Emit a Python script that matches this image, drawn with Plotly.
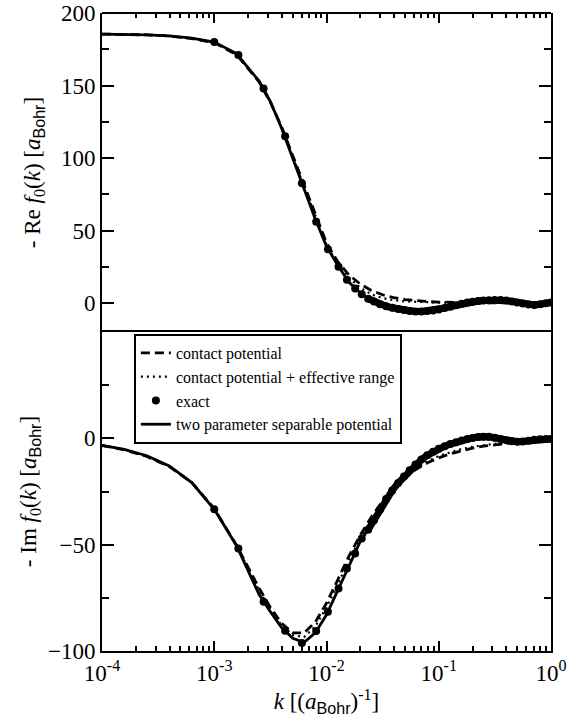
import plotly.graph_objects as go
from plotly.subplots import make_subplots

# ---------------- data ----------------
k_grid = [1e-4, 1.58e-4, 2.51e-4, 3.98e-4, 6.31e-4, 1e-3, 1.58e-3, 2.51e-3, 3.16e-3,
          3.98e-3, 5.01e-3, 6.31e-3, 7.94e-3, 1e-2, 1.26e-2, 1.58e-2, 2.0e-2, 2.51e-2,
          3.16e-2, 3.98e-2, 5.01e-2, 6.31e-2, 7.94e-2, 0.1, 0.126, 0.158, 0.2, 0.251,
          0.316, 0.398, 0.501, 0.631, 0.794, 1.0]

# top panel: - Re f0(k)
re_contact = [185.5, 185.3, 184.9, 184.1, 182.4, 179.5, 171.3, 152.5, 138.5, 121.5, 101.5,
              81.5, 60.5, 41.5, 28.5, 19.5, 13.0, 8.7, 5.7, 3.7, 2.4, 1.5, 1.0, 0.6, 0.4,
              0.25, 0.15, 0.1, 0.06, 0.04, 0.02, 0.015, 0.01, 0.005]
re_effrange = [185.5, 185.3, 184.9, 184.1, 182.5, 179.8, 171.7, 152.8, 138.8, 121.0, 100.8,
               80.3, 59.3, 40.3, 27.0, 17.5, 10.5, 6.0, 3.4, 1.9, 1.1, 0.7, 0.45, 0.3, 0.2,
               0.15, 0.1, 0.07, 0.05, 0.03, 0.02, 0.015, 0.01, 0.005]
re_twoparam = [185.5, 185.3, 184.9, 184.2, 182.6, 180.0, 172.0, 153.0, 139.0, 120.5, 100.0,
               79.0, 58.0, 39.0, 26.0, 14.5, 7.0, 2.0, -1.3, -3.5, -4.9, -5.9, -5.6, -4.4,
               -2.6, -0.6, 0.9, 1.7, 2.05, 1.7, 0.4, -1.1, -0.9, 0.4]

# bottom panel: - Im f0(k)
im_contact = [-3.4, -5.4, -8.5, -13.3, -20.8, -33.0, -50.3, -70.5, -79.5, -87.0, -91.5,
              -91.5, -86.5, -77.5, -66.5, -55.5, -45.5, -37.0, -29.5, -23.5, -18.5, -14.5,
              -11.5, -9.2, -7.3, -5.8, -4.6, -3.7, -3.0, -2.4, -1.9, -1.5, -1.2, -0.9]
im_effrange = [-3.3, -5.3, -8.4, -13.2, -20.8, -33.2, -50.4, -71.5, -80.5, -88.0, -92.5,
               -93.5, -88.5, -79.5, -68.5, -57.5, -47.0, -38.5, -30.5, -24.0, -18.5, -14.0,
               -10.8, -8.3, -6.5, -5.1, -4.0, -3.2, -2.6, -2.1, -1.7, -1.35, -1.05, -0.8]
im_twoparam = [-3.3, -5.2, -8.2, -13.0, -20.8, -33.4, -50.5, -73.5, -81.5, -89.0, -94.0,
               -96.0, -91.5, -83.0, -71.5, -60.0, -48.5, -40.5, -31.5, -23.8, -17.8, -12.0,
               -8.0, -5.0, -2.8, -1.1, 0.2, 0.8, 0.3, -0.9, -1.6, -1.1, -0.4, -0.3]

# exact results (dots)
k_exact = [1.0e-3, 1.64e-3, 2.75e-3, 4.28e-3, 6.04e-3, 8.09e-3, 1.03e-2, 1.28e-2, 1.52e-2,
           1.80e-2, 2.06e-2, 2.35e-2, 2.65e-2, 3.0e-2, 3.4e-2, 3.85e-2, 4.35e-2, 4.9e-2,
           5.5e-2, 6.2e-2, 7.0e-2, 7.9e-2, 8.9e-2, 0.10, 0.113, 0.127, 0.143, 0.16, 0.18,
           0.2, 0.225, 0.25, 0.28, 0.315, 0.355, 0.4, 0.45, 0.5, 0.56, 0.63, 0.71, 0.8,
           0.9, 1.0]
re_exact = [180, 171, 148, 115, 82.6, 56, 37, 25, 16, 10, 6, 3, 1, -0.8, -2.2, -3.3, -4.2,
            -4.9, -5.6, -5.9, -5.9, -5.6, -5.1, -4.4, -3.5, -2.5, -1.5, -0.5, 0.3, 0.9, 1.4,
            1.7, 1.95, 2.05, 2.0, 1.7, 1.1, 0.4, -0.4, -1.1, -1.3, -0.9, -0.2, 0.4]
im_exact = [-33.4, -51.8, -76.9, -90.5, -96.2, -90.6, -81.6, -70.6, -61.2, -54.1, -47.1,
            -43, -38.5, -33.5, -28.5, -24.5, -21, -18, -15, -12.3, -10, -8, -6.3, -4.9,
            -3.7, -2.7, -1.8, -1.0, -0.3, 0.2, 0.6, 0.8, 0.7, 0.3, -0.3, -0.9, -1.4, -1.6,
            -1.5, -1.1, -0.7, -0.4, -0.3, -0.3]

x_tickvals = [1e-4, 1e-3, 1e-2, 1e-1, 1e0]
x_ticktext = ["10<sup>-4</sup>", "10<sup>-3</sup>", "10<sup>-2</sup>", "10<sup>-1</sup>", "10<sup>0</sup>"]

# ---------------- figure ----------------
SERIF = "Liberation Serif"
SANS_SPAN = '<span style="font-family:Liberation Sans">Bohr</span>'
fig = make_subplots(rows=2, cols=1, shared_xaxes=True, vertical_spacing=0)

dense_cut = 0.022
for row, (yc, ye, yt, yx) in enumerate([(re_contact, re_effrange, re_twoparam, re_exact),
                                        (im_contact, im_effrange, im_twoparam, im_exact)], start=1):
    show = row == 2
    fig.add_trace(go.Scatter(x=k_grid, y=yc, mode="lines", name="contact potential",
                             line=dict(color="black", width=2.8, dash="9px,5px"),
                             showlegend=show), row=row, col=1)
    fig.add_trace(go.Scatter(x=k_grid, y=ye, mode="lines",
                             name="contact potential + effective range",
                             line=dict(color="black", width=2.2, dash="2px,4px"),
                             showlegend=show), row=row, col=1)
    kd = [k for k in k_exact if k >= dense_cut]
    yd = [v for k, v in zip(k_exact, yx) if k >= dense_cut]
    fig.add_trace(go.Scatter(x=kd, y=yd, mode="lines", line=dict(color="black", width=7),
                             showlegend=False, hoverinfo="skip"), row=row, col=1)
    fig.add_trace(go.Scatter(x=k_exact, y=yx, mode="markers", name="exact",
                             marker=dict(color="black", size=8), showlegend=show),
                  row=row, col=1)
    fig.add_trace(go.Scatter(x=k_grid, y=yt, mode="lines",
                             name="two parameter separable potential",
                             line=dict(color="black", width=2.8), showlegend=show),
                  row=row, col=1)

x_minor = [m * 10 ** e for e in range(-4, 0) for m in range(2, 10)]
common_x = dict(type="log", range=[-4, 0], showline=True, linecolor="black", linewidth=2,
                mirror=True, ticks="inside", ticklen=10, tickwidth=1.5, tickcolor="black",
                tickvals=x_tickvals, ticktext=x_ticktext, showgrid=False, zeroline=False,
                automargin=False,
                minor=dict(tickvals=x_minor, ticks="inside", ticklen=5, tickwidth=1.5,
                           tickcolor="black", showgrid=False),
                tickfont=dict(family=SERIF, size=23, color="black"))
fig.update_xaxes(**common_x)
# top panel: ticks along the top edge only; the frame's top line is drawn as a shape
fig.update_xaxes(showticklabels=False, side="top", showline=False, mirror=False,
                 row=1, col=1)
fig.update_xaxes(title=dict(text="<i>k</i> [(<i>a</i><sub>" + SANS_SPAN + "</sub>)<sup>-1</sup>]",
                            font=dict(family=SERIF, size=23, color="black"), standoff=0),
                 row=2, col=1)
fig.add_shape(type="line", xref="paper", yref="paper", x0=0, x1=1, y0=1, y1=1,
              line=dict(color="black", width=2))

common_y = dict(showline=True, linecolor="black", linewidth=2, mirror="ticks", ticks="inside",
                ticklen=12, tickwidth=1.5, tickcolor="black", showgrid=False, zeroline=False,
                automargin=False,
                tickfont=dict(family=SERIF, size=23, color="black"))
fig.update_yaxes(**common_y)
fig.update_yaxes(range=[-20, 200], tickvals=[0, 50, 100, 150, 200],
                 minor=dict(tickvals=[25, 75, 125, 175], ticks="inside", ticklen=7,
                            tickwidth=1.5, tickcolor="black", showgrid=False),
                 title=dict(text="- Re <i>f</i><sub>0</sub>(<i>k</i>) [<i>a</i><sub>" + SANS_SPAN + "</sub>]",
                            font=dict(family=SERIF, size=23, color="black"), standoff=14),
                 row=1, col=1)
fig.update_yaxes(range=[-100, 50], tickvals=[-100, -50, 0],
                 minor=dict(tickvals=[-75, -25, 25], ticks="inside", ticklen=7,
                            tickwidth=1.5, tickcolor="black", showgrid=False),
                 title=dict(text="- Im <i>f</i><sub>0</sub>(<i>k</i>) [<i>a</i><sub>" + SANS_SPAN + "</sub>]",
                            font=dict(family=SERIF, size=23, color="black"), standoff=5),
                 row=2, col=1)

fig.update_layout(
    width=580, height=721,
    margin=dict(l=102, r=29, t=13, b=70, autoexpand=False),
    paper_bgcolor="white", plot_bgcolor="white",
    font=dict(family=SERIF, color="black"),
    legend=dict(x=0.071, y=0.497, xanchor="left", yanchor="top",
                bgcolor="white", bordercolor="black", borderwidth=2,
                font=dict(family=SERIF, size=16, color="black"), tracegroupgap=0),
)

fig.write_html("out.html")
